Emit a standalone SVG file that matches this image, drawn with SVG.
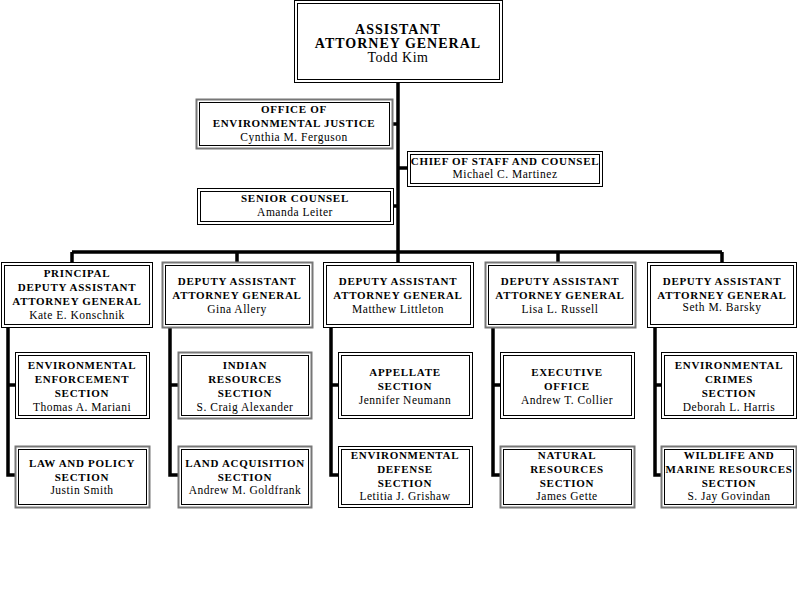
<svg xmlns="http://www.w3.org/2000/svg" width="797" height="598" viewBox="0 0 797 598">
<style>
.o{fill:#fff;stroke:#000;stroke-width:1}
.g{fill:#fff;stroke:#777;stroke-width:2}
.i{fill:none;stroke:#000;stroke-width:1}
text{font-family:"Liberation Serif",serif;text-anchor:middle;fill:#000}
.t{font-weight:bold;font-size:11px;letter-spacing:0.7px}
.n{font-size:11.5px;letter-spacing:0.5px}
.b{font-weight:bold;font-size:14px;letter-spacing:1px}
.bn{font-size:14px;letter-spacing:0.5px}
.c{stroke:#000;stroke-width:3.5;fill:none}
</style>
<rect width="797" height="598" fill="#fff"/>
<g id="connectors">
<path class="c" d="M398 82V252M392 124H398M398 168H407M393 206H398M72 252H722M72 252V262M237 252V262M398 252V262M558 252V262M722 252V262"/>
<path class="c" d="M8 327V475H15M8 385H15M170 327V475H178M170 385H178M331 327V475H338M331 385H338M493 327V475H500M493 385H500M655 327V475H661M655 385H661"/>
</g>
<g id="aag"><rect class="o" x="294.5" y="0.5" width="208" height="82"/><rect class="i" x="297.5" y="3.5" width="202" height="76"/>
<text class="b" x="398" y="34">ASSISTANT</text><text class="b" x="398" y="48">ATTORNEY GENERAL</text><text class="bn" x="398" y="62">Todd Kim</text></g>
<g id="oej"><rect class="g" x="196.5" y="99.5" width="196" height="49"/><rect class="i" x="199.5" y="102.5" width="190" height="43"/>
<text class="t" x="294" y="113">OFFICE OF</text><text class="t" x="294" y="127">ENVIRONMENTAL JUSTICE</text><text class="n" x="294" y="141">Cynthia M. Ferguson</text></g>
<g id="cos"><rect class="o" x="407.5" y="151.5" width="195" height="35"/><rect class="i" x="410.5" y="154.5" width="189" height="29"/>
<text class="t" x="505" y="165">CHIEF OF STAFF AND COUNSEL</text><text class="n" x="505" y="178">Michael C. Martinez</text></g>
<g id="sc"><rect class="o" x="197.5" y="188.5" width="196" height="36"/><rect class="i" x="200.5" y="191.5" width="190" height="30"/>
<text class="t" x="295" y="202">SENIOR COUNSEL</text><text class="n" x="295" y="216">Amanda Leiter</text></g>

<g id="pdaag"><rect class="o" x="1.5" y="262.5" width="151" height="65"/><rect class="i" x="4.5" y="265.5" width="145" height="59"/>
<text class="t" x="77" y="277">PRINCIPAL</text><text class="t" x="77" y="291">DEPUTY ASSISTANT</text><text class="t" x="77" y="305">ATTORNEY GENERAL</text><text class="n" x="77" y="319">Kate E. Konschnik</text></g>
<g id="daag1"><rect class="g" x="162.5" y="262.5" width="150" height="65"/><rect class="i" x="165.5" y="265.5" width="144" height="59"/>
<text class="t" x="237" y="285">DEPUTY ASSISTANT</text><text class="t" x="237" y="299">ATTORNEY GENERAL</text><text class="n" x="237" y="313">Gina Allery</text></g>
<g id="daag2"><rect class="o" x="323.5" y="262.5" width="150" height="65"/><rect class="i" x="326.5" y="265.5" width="144" height="59"/>
<text class="t" x="398" y="285">DEPUTY ASSISTANT</text><text class="t" x="398" y="299">ATTORNEY GENERAL</text><text class="n" x="398" y="313">Matthew Littleton</text></g>
<g id="daag3"><rect class="g" x="485.5" y="262.5" width="150" height="65"/><rect class="i" x="488.5" y="265.5" width="144" height="59"/>
<text class="t" x="560" y="285">DEPUTY ASSISTANT</text><text class="t" x="560" y="299">ATTORNEY GENERAL</text><text class="n" x="560" y="313">Lisa L. Russell</text></g>
<g id="daag4"><rect class="o" x="647.5" y="262.5" width="149" height="65"/><rect class="i" x="650.5" y="265.5" width="143" height="59"/>
<text class="t" x="722" y="285">DEPUTY ASSISTANT</text><text class="t" x="722" y="299">ATTORNEY GENERAL</text><text class="n" x="722" y="311">Seth M. Barsky</text></g>

<g id="ees"><rect class="o" x="15.5" y="352.5" width="134" height="66"/><rect class="i" x="18.5" y="355.5" width="128" height="60"/>
<text class="t" x="82" y="369">ENVIRONMENTAL</text><text class="t" x="82" y="383">ENFORCEMENT</text><text class="t" x="82" y="397">SECTION</text><text class="n" x="82" y="411">Thomas A. Mariani</text></g>
<g id="lps"><rect class="g" x="15.5" y="446.5" width="134" height="61"/><rect class="i" x="18.5" y="449.5" width="128" height="55"/>
<text class="t" x="82" y="467">LAW AND POLICY</text><text class="t" x="82" y="481">SECTION</text><text class="n" x="82" y="494">Justin Smith</text></g>
<g id="irs"><rect class="g" x="178.5" y="352.5" width="133" height="66"/><rect class="i" x="181.5" y="355.5" width="127" height="60"/>
<text class="t" x="245" y="369">INDIAN</text><text class="t" x="245" y="383">RESOURCES</text><text class="t" x="245" y="397">SECTION</text><text class="n" x="245" y="411">S. Craig Alexander</text></g>
<g id="las"><rect class="g" x="178.5" y="446.5" width="133" height="61"/><rect class="i" x="181.5" y="449.5" width="127" height="55"/>
<text class="t" x="245" y="467">LAND ACQUISITION</text><text class="t" x="245" y="481">SECTION</text><text class="n" x="245" y="494">Andrew M. Goldfrank</text></g>
<g id="app"><rect class="o" x="338.5" y="352.5" width="134" height="66"/><rect class="i" x="341.5" y="355.5" width="128" height="60"/>
<text class="t" x="405" y="376">APPELLATE</text><text class="t" x="405" y="390">SECTION</text><text class="n" x="405" y="404">Jennifer Neumann</text></g>
<g id="eds"><rect class="o" x="338.5" y="446.5" width="134" height="61"/><rect class="i" x="341.5" y="449.5" width="128" height="55"/>
<text class="t" x="405" y="459">ENVIRONMENTAL</text><text class="t" x="405" y="473">DEFENSE</text><text class="t" x="405" y="487">SECTION</text><text class="n" x="405" y="500">Letitia J. Grishaw</text></g>
<g id="eo"><rect class="o" x="500.5" y="352.5" width="134" height="66"/><rect class="i" x="503.5" y="355.5" width="128" height="60"/>
<text class="t" x="567" y="376">EXECUTIVE</text><text class="t" x="567" y="390">OFFICE</text><text class="n" x="567" y="404">Andrew T. Collier</text></g>
<g id="nrs"><rect class="g" x="500.5" y="446.5" width="134" height="61"/><rect class="i" x="503.5" y="449.5" width="128" height="55"/>
<text class="t" x="567" y="459">NATURAL</text><text class="t" x="567" y="473">RESOURCES</text><text class="t" x="567" y="487">SECTION</text><text class="n" x="567" y="500">James Gette</text></g>
<g id="ecs"><rect class="o" x="661.5" y="352.5" width="135" height="66"/><rect class="i" x="664.5" y="355.5" width="129" height="60"/>
<text class="t" x="729" y="369">ENVIRONMENTAL</text><text class="t" x="729" y="383">CRIMES</text><text class="t" x="729" y="397">SECTION</text><text class="n" x="729" y="411">Deborah L. Harris</text></g>
<g id="wmrs"><rect class="g" x="661.5" y="446.5" width="135" height="61"/><rect class="i" x="664.5" y="449.5" width="129" height="55"/>
<text class="t" x="729" y="459">WILDLIFE AND</text><text class="t" x="729" y="473">MARINE RESOURCES</text><text class="t" x="729" y="487">SECTION</text><text class="n" x="729" y="500">S. Jay Govindan</text></g>
</svg>
